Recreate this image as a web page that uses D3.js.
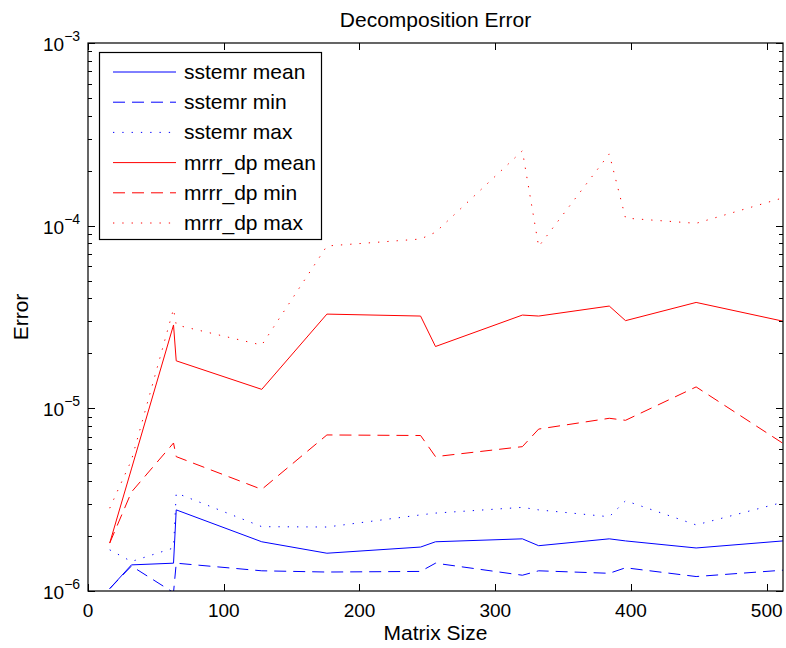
<html>
  <head>
    <meta charset="utf-8">
    <title>Decomposition Error</title>
    <script type="text/javascript" src="https://cdn.jsdelivr.net/npm/d3@7/dist/d3.min.js"></script>
    <style type="text/css">
      body { margin: 0; background: #fff; }
      text { font-family: "Liberation Sans", Arial, sans-serif; fill: #000; }
    </style>
  </head>
  <body>
    <svg width="786" height="648"></svg>
    <script>
      // matrix sizes (x)
      var sizes = [16, 32, 63, 65, 128, 176, 245, 256, 320, 332, 384, 396, 448, 512];

      var sstemrMean = [1.03e-6, 1.39e-6, 1.42e-6, 2.78e-6, 1.86e-6, 1.61e-6, 1.74e-6, 1.86e-6, 1.93e-6, 1.77e-6, 1.93e-6, 1.88e-6, 1.72e-6, 1.88e-6];
      var sstemrMin  = [1.03e-6, 1.37e-6, 0.98e-6, 1.42e-6, 1.29e-6, 1.27e-6, 1.28e-6, 1.42e-6, 1.22e-6, 1.29e-6, 1.25e-6, 1.34e-6, 1.20e-6, 1.30e-6];
      var sstemrMax  = [1.68e-6, 1.45e-6, 1.72e-6, 3.44e-6, 2.25e-6, 2.24e-6, 2.61e-6, 2.67e-6, 2.87e-6, 2.78e-6, 2.55e-6, 3.12e-6, 2.30e-6, 3.06e-6];
      var mrrrMean   = [1.83e-6, 4.66e-6, 2.86e-5, 1.82e-5, 1.27e-5, 3.28e-5, 3.20e-5, 2.18e-5, 3.24e-5, 3.20e-5, 3.63e-5, 3.02e-5, 3.80e-5, 3.00e-5];
      var mrrrMin    = [1.83e-6, 3.48e-6, 6.46e-6, 5.44e-6, 3.60e-6, 7.15e-6, 7.10e-6, 5.44e-6, 6.17e-6, 7.70e-6, 8.82e-6, 8.60e-6, 1.31e-5, 6.43e-6];
      var mrrrMax    = [2.84e-6, 5.20e-6, 3.50e-5, 2.86e-5, 2.22e-5, 7.74e-5, 8.45e-5, 9.20e-5, 2.57e-4, 7.69e-5, 2.47e-4, 1.10e-4, 1.03e-4, 1.42e-4];

      var seriesNames = ['sstemr mean', 'sstemr min', 'sstemr max', 'mrrr_dp mean', 'mrrr_dp min', 'mrrr_dp max'];
      var xTicks = [0, 100, 200, 300, 400, 500];
      var yExponents = [-6, -5, -4, -3];

      var series = [
        {name: seriesNames[0], values: sstemrMean, color: '#0000ff', dash: null},
        {name: seriesNames[1], values: sstemrMin,  color: '#0000ff', dash: '12,7'},
        {name: seriesNames[2], values: sstemrMax,  color: '#0000ff', dash: '1.3,8'},
        {name: seriesNames[3], values: mrrrMean,   color: '#ff0000', dash: null},
        {name: seriesNames[4], values: mrrrMin,    color: '#ff0000', dash: '12,7'},
        {name: seriesNames[5], values: mrrrMax,    color: '#ff0000', dash: '1.3,8'}
      ];

      var L = 88, R = 783, T = 43, B = 591;
      var svg = d3.select('svg');

      var x = d3.scaleLinear().domain([0, 512]).range([L, R]);
      var y = d3.scaleLog().domain([1e-6, 1e-3]).range([B, T]);

      svg.append('clipPath').attr('id', 'plot')
        .append('rect').attr('x', L).attr('y', T).attr('width', R - L).attr('height', B - T);

      // lines
      var line = d3.line()
        .x(function(d){ return x(d[0]); })
        .y(function(d){ return y(d[1]); });

      svg.append('g').attr('clip-path', 'url(#plot)')
        .selectAll('path').data(series).enter().append('path')
        .attr('fill', 'none')
        .attr('stroke', function(d){ return d.color; })
        .attr('stroke-width', 1)
        .attr('stroke-dasharray', function(d){ return d.dash; })
        .attr('d', function(d){ return line(d3.zip(sizes, d.values)); });

      // box
      svg.append('rect').attr('x', L).attr('y', T).attr('width', R - L).attr('height', B - T)
        .attr('fill', 'none').attr('stroke', '#000').attr('stroke-width', 1.2);

      // x ticks (inside, bottom and top)
      var tg = svg.append('g').attr('stroke', '#000').attr('stroke-width', 1);
      xTicks.forEach(function(t){
        var px = Math.round(x(t)) + 0.5;
        tg.append('line').attr('x1', px).attr('x2', px).attr('y1', B).attr('y2', B - 7);
        tg.append('line').attr('x1', px).attr('x2', px).attr('y1', T).attr('y2', T + 7);
      });
      svg.append('g').selectAll('text').data(xTicks).enter().append('text')
        .attr('x', function(d){ return x(d); })
        .attr('y', 617)
        .attr('text-anchor', 'middle')
        .style('font-size', '19px')
        .text(function(d){ return d; });

      // y ticks: majors + minors, left and right
      var minors = [];
      yExponents.forEach(function(e){
        if (e < -3) for (var m = 2; m <= 9; m++) minors.push(m * Math.pow(10, e));
      });
      yExponents.forEach(function(e){
        var py = Math.round(y(Math.pow(10, e))) + 0.5;
        tg.append('line').attr('x1', L).attr('x2', L + 7).attr('y1', py).attr('y2', py);
        tg.append('line').attr('x1', R).attr('x2', R - 7).attr('y1', py).attr('y2', py);
      });
      minors.forEach(function(v){
        var py = Math.round(y(v)) + 0.5;
        tg.append('line').attr('x1', L).attr('x2', L + 4).attr('y1', py).attr('y2', py);
        tg.append('line').attr('x1', R).attr('x2', R - 4).attr('y1', py).attr('y2', py);
      });

      var yl = svg.append('g').selectAll('text').data(yExponents).enter().append('text')
        .attr('x', 43)
        .attr('y', function(d){ return y(Math.pow(10, d)) + 8; })
        .style('font-size', '19px');
      yl.append('tspan').text('10');
      yl.append('tspan').attr('dy', -10).style('font-size', '14px')
        .text(function(d){ return '\u2212' + (-d); });

      // titles
      svg.append('text').attr('x', (L + R) / 2).attr('y', 27).attr('text-anchor', 'middle')
        .style('font-size', '21px').text('Decomposition Error');
      svg.append('text').attr('x', (L + R) / 2).attr('y', 640).attr('text-anchor', 'middle')
        .style('font-size', '21px').text('Matrix Size');
      svg.append('text').attr('transform', 'translate(28,' + ((T + B) / 2) + ') rotate(-90)')
        .attr('text-anchor', 'middle').style('font-size', '21px').text('Error');

      // legend
      var lg = svg.append('g');
      lg.append('rect').attr('x', 99.5).attr('y', 52.5).attr('width', 222).attr('height', 187)
        .attr('fill', '#fff').attr('stroke', '#000').attr('stroke-width', 1.2);
      var items = lg.selectAll('g.item').data(series).enter().append('g').attr('class', 'item')
        .attr('transform', function(d, i){ return 'translate(0,' + (72 + i * 30.2) + ')'; });
      items.append('line').attr('x1', 113).attr('x2', 176).attr('y1', 0).attr('y2', 0)
        .attr('stroke', function(d){ return d.color; })
        .attr('stroke-dasharray', function(d){ return d.dash; });
      items.append('text').attr('x', 184).attr('y', 7).style('font-size', '21px')
        .text(function(d){ return d.name; });
    </script>
  </body>
</html>
